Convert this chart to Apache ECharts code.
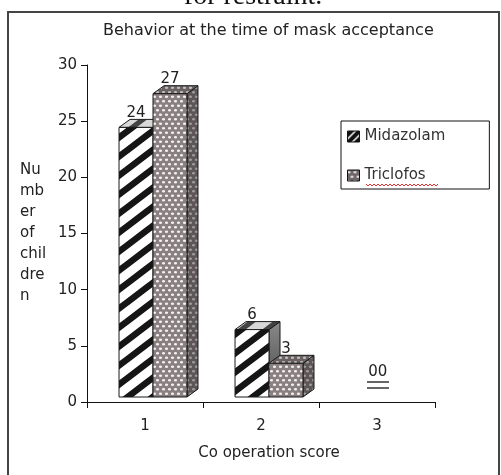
<!DOCTYPE html>
<html>
<head>
<meta charset="utf-8">
<script src="https://cdn.jsdelivr.net/npm/echarts@6/dist/echarts.min.js"></script>
<style>
  html, body { margin: 0; padding: 0; background: #fff; }
  #chart { width: 501px; height: 475px; }
</style>
</head>
<body>
<div id="chart"></div>
<script>
// data
var categories = ["1", "2", "3"];
var midazolam = [24, 6, 0];
var triclofos = [27, 3, 0];
var yTicks = [0, 5, 10, 15, 20, 25, 30];

var FONT = "DejaVu Sans";

// fill patterns for the bars
function stripes(bg, fg, w, h, lw) {
  var c = document.createElement("canvas");
  c.width = w; c.height = h;
  var g = c.getContext("2d");
  g.fillStyle = bg; g.fillRect(0, 0, w, h);
  g.strokeStyle = fg; g.lineWidth = lw;
  var k = h / w;
  g.beginPath();
  [-h, 0, h].forEach(function (off) {
    g.moveTo(-3, h + off + 3 * k); g.lineTo(w + 3, off - 3 * k);
  });
  g.stroke();
  return { image: c, repeat: "repeat" };
}
function dots(bg, fg) {
  var c = document.createElement("canvas");
  c.width = 6; c.height = 9;
  var g = c.getContext("2d");
  g.fillStyle = bg; g.fillRect(0, 0, 6, 9);
  g.fillStyle = fg;
  [[1.5, 2.2], [4.5, 6.7], [-1.5, 6.7]].forEach(function (p) {
    g.beginPath(); g.ellipse(p[0], p[1], 1.6, 1.2, 0, 0, Math.PI * 2); g.fill();
  });
  return { image: c, repeat: "repeat" };
}

var looks = [
  { front: stripes("#ffffff", "#151515", 25, 19, 6.5), top: stripes("#d8d8d8", "#444444", 25, 19, 5),
    side: new echarts.graphic.LinearGradient(0, 0, 0, 1, [{ offset: 0, color: "#8a8a8a" }, { offset: 1, color: "#444444" }]) },
  { front: dots("#8a8081", "#f2f2f2"), top: dots("#6a6162", "#c0c0c0"), side: dots("#5e5556", "#9c9c9c") }
];

var DX = 11, DY = 8, LIFT = 5;

function renderBar(params, api) {
  var ci = api.value(0), v = api.value(1);
  var topPt = api.coord([ci, v]);
  var basePt = api.coord([ci, 0]);
  var cw = api.size([1, 0])[0];
  var bw = cw * 0.293;
  var center = basePt[0];
  var x0 = center - cw * 0.224 + params.seriesIndex * bw;
  var y0 = topPt[1] - LIFT, y1 = basePt[1] - LIFT;
  var look = looks[params.seriesIndex];
  var edge = { stroke: "#1a1a1a", lineWidth: 1 };
  var kids = [];
  if (v > 0) {
    kids.push({ type: "polygon", shape: { points: [[x0 + bw, y0], [x0 + bw + DX, y0 - DY], [x0 + bw + DX, y1 - DY], [x0 + bw, y1]] },
      style: Object.assign({ fill: look.side }, edge) });
    kids.push({ type: "polygon", shape: { points: [[x0, y0], [x0 + DX, y0 - DY], [x0 + bw + DX, y0 - DY], [x0 + bw, y0]] },
      style: Object.assign({ fill: look.top }, edge) });
    kids.push({ type: "rect", shape: { x: x0, y: y0, width: bw, height: y1 - y0 },
      style: Object.assign({ fill: look.front }, edge) });
    kids.push({ type: "text", style: { x: x0 + bw / 2, y: y0 - DY + 1, text: String(v), align: "center", verticalAlign: "bottom",
      font: "15px '" + FONT + "'", fill: "#222" } });
  } else {
    // zero values: labels squeezed together above the floor, double underlined
    var lx = center + (params.seriesIndex ? 5.5 : -4);
    var ly = y1 - 17;
    kids.push({ type: "text", style: { x: lx, y: ly, text: String(v), align: "center", verticalAlign: "bottom",
      font: "15px '" + FONT + "'", fill: "#222" } });
    kids.push({ type: "line", shape: { x1: center - 10, y1: ly + 2 + params.seriesIndex * 6, x2: center + 12, y2: ly + 2 + params.seriesIndex * 6 },
      style: { stroke: "#333", lineWidth: 1.5 } });
  }
  return { type: "group", children: kids };
}

function seriesData(vals) {
  return vals.map(function (v, i) { return [i, v]; });
}

var wavy = [];
for (var wx = 366; wx <= 438; wx += 2) wavy.push([wx, (wx / 2) % 2 ? 184 : 186]);

var chart = echarts.init(document.getElementById("chart"));
chart.setOption({
  animation: false,
  title: {
    text: "Behavior at the time of mask acceptance",
    left: 98, top: 18,
    textStyle: { fontFamily: FONT, fontSize: 16, fontWeight: "normal", color: "#222" }
  },
  legend: {
    orient: "vertical",
    left: 341, top: 121,
    padding: [8, 44, 6, 6],
    itemGap: 24,
    itemWidth: 12, itemHeight: 11,
    borderColor: "#111", borderWidth: 1,
    textStyle: { fontFamily: FONT, fontSize: 15, color: "#333" },
    data: [
      { name: "Midazolam", icon: "rect", itemStyle: { color: stripes("#111111", "#ffffff", 8, 8, 1.5), borderColor: "#111", borderWidth: 1 } },
      { name: "Triclofos", icon: "rect", itemStyle: { color: dots("#6e6566", "#dddddd"), borderColor: "#111", borderWidth: 1 } }
    ]
  },
  grid: { left: 87, right: 66, top: 65, bottom: 73 },
  xAxis: {
    type: "category",
    data: categories,
    name: "Co operation score",
    nameLocation: "middle",
    nameGap: 44,
    nameTextStyle: { fontFamily: FONT, fontSize: 15, color: "#222", padding: [0, 0, 0, 16] },
    axisLine: { lineStyle: { color: "#111", width: 1 } },
    axisTick: { show: true, length: 6, lineStyle: { color: "#111" } },
    axisLabel: { margin: 17, fontFamily: FONT, fontSize: 15, color: "#222" },
    splitLine: { show: false }
  },
  yAxis: {
    type: "value",
    min: yTicks[0], max: yTicks[yTicks.length - 1], interval: 5,
    name: "Nu\nmb\ner\nof\nchil\ndre\nn",
    nameLocation: "middle",
    nameRotate: 0,
    nameGap: 67,
    nameTextStyle: { fontFamily: FONT, fontSize: 15, color: "#222", align: "left", verticalAlign: "middle", lineHeight: 21, padding: [0, 0, 88, 0] },
    axisLine: { show: true, lineStyle: { color: "#111", width: 1 } },
    axisTick: { show: true, length: 6, lineStyle: { color: "#111" } },
    axisLabel: { margin: 10, fontFamily: FONT, fontSize: 15, color: "#222" },
    splitLine: { show: false }
  },
  series: [
    { name: "Midazolam", type: "custom", renderItem: renderBar, encode: { x: 0, y: 1 },
      itemStyle: { color: "#111" }, data: seriesData(midazolam) },
    { name: "Triclofos", type: "custom", renderItem: renderBar, encode: { x: 0, y: 1 },
      itemStyle: { color: "#6e6566" }, data: seriesData(triclofos) }
  ],
  graphic: [
    { type: "text", x: 253, y: 11, silent: true,
      style: { text: "for restraint.", font: "28px 'Liberation Serif'", fill: "#111", align: "center", verticalAlign: "bottom" } },
    { type: "rect", shape: { x: 8, y: 12, width: 491, height: 480 },
      style: { fill: "none", stroke: "#444", lineWidth: 2 }, silent: true },
    { type: "polyline", silent: true, shape: { points: wavy },
      style: { stroke: "#e03030", lineWidth: 1, fill: "none" } }
  ]
});
</script>
</body>
</html>
